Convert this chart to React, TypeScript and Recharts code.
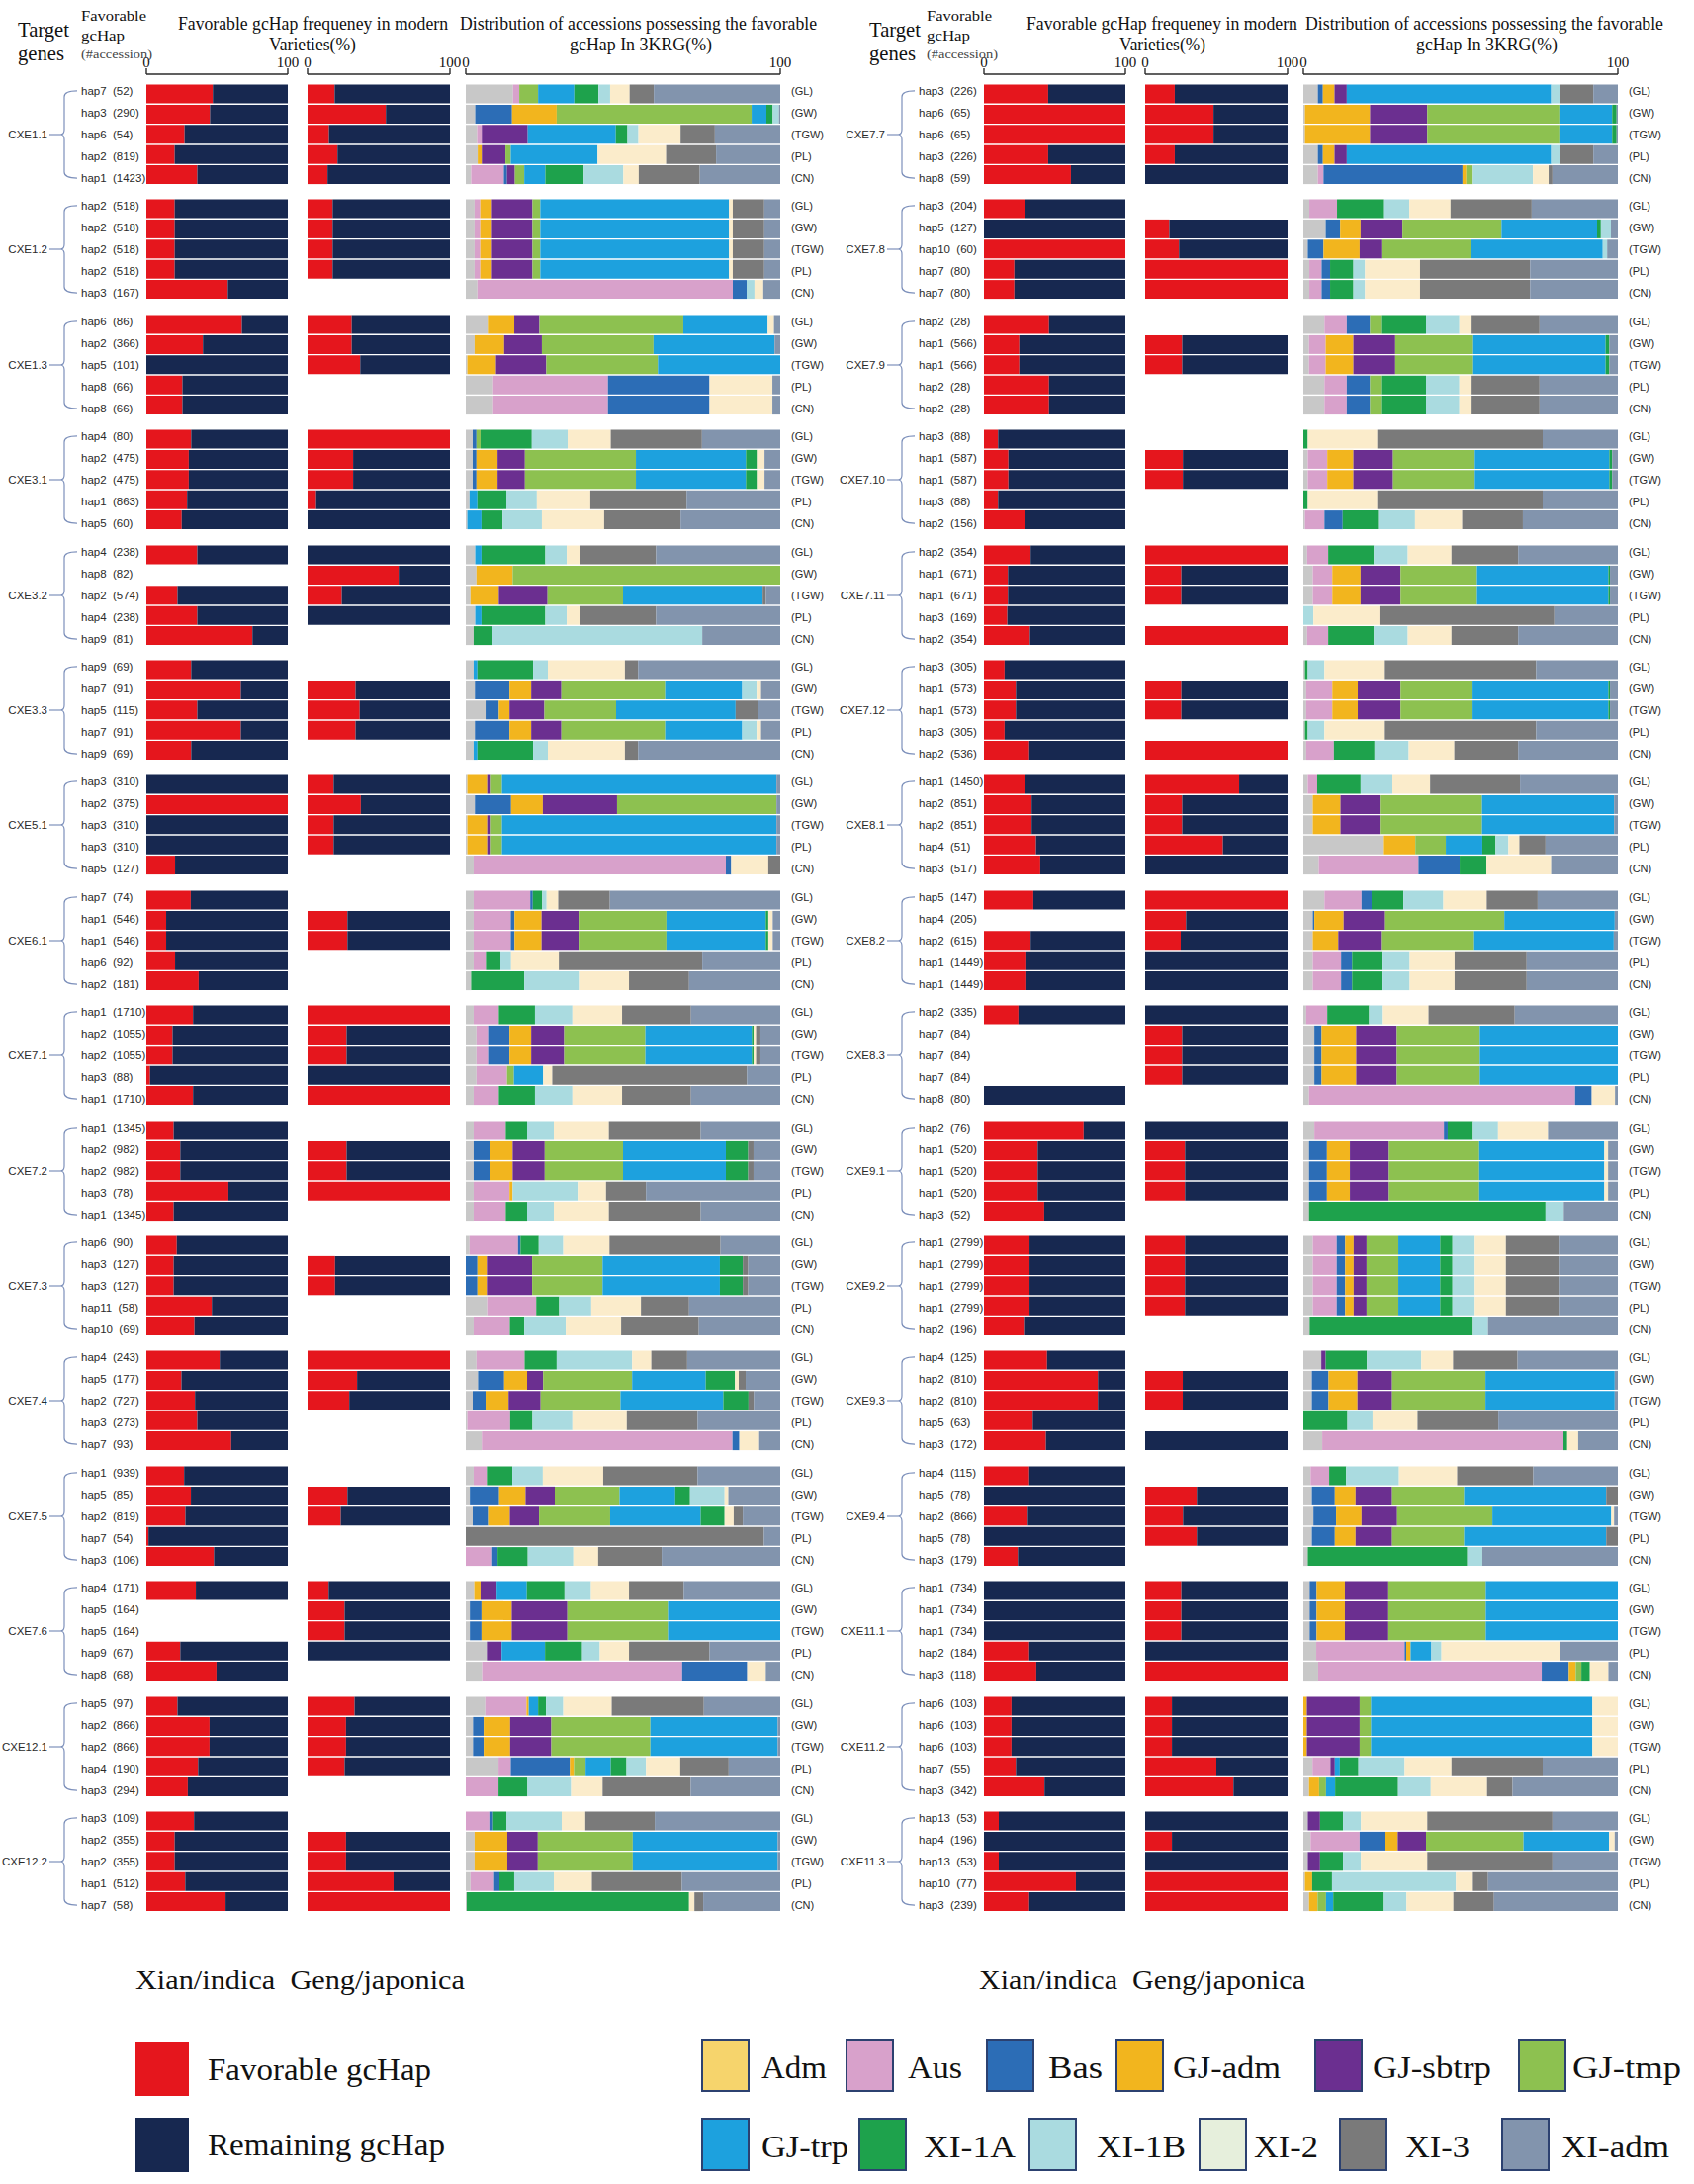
import React from "react";
import { Bar, BarChart, XAxis, YAxis } from "recharts";

const SERIF = '"Liberation Serif", "Times New Roman", serif';
const SANS = '"Liberation Sans", Arial, sans-serif';

const RED = "#e5161d";
const NAVY = "#172850";
const BRACE = "#7d90bb";

const GROUPS = ["Adm", "Aus", "Bas", "GJ-adm", "GJ-sbtrp", "GJ-tmp", "GJ-trp", "XI-1A", "XI-1B", "XI-2", "XI-3", "XI-adm"];
// colours as they appear inside the stacked bars
const GROUP_COLORS = ["#c8c8c8", "#d8a1cb", "#2c6db6", "#f2b51e", "#6b2f90", "#8dc150", "#1da1de", "#1ea24c", "#aadbe0", "#fbeccb", "#7a7a7a", "#8294ad"];
// the printed legend uses other swatches for Adm and XI-2
const LEGEND_COLORS = ["#f6d46c", "#d8a1cb", "#2c6db6", "#f2b51e", "#6b2f90", "#8dc150", "#1da1de", "#1ea24c", "#aadbe0", "#e6efdc", "#7a7a7a", "#8294ad"];
const TRAITS = ["(GL)", "(GW)", "(TGW)", "(PL)", "(CN)"];
const AXIS_TICKS = [0, 100];

const LEFT_GENES = ["CXE1.1", "CXE1.2", "CXE1.3", "CXE3.1", "CXE3.2", "CXE3.3", "CXE5.1", "CXE6.1", "CXE7.1", "CXE7.2", "CXE7.3", "CXE7.4", "CXE7.5", "CXE7.6", "CXE12.1", "CXE12.2"];
const RIGHT_GENES = ["CXE7.7", "CXE7.8", "CXE7.9", "CXE7.10", "CXE7.11", "CXE7.12", "CXE8.1", "CXE8.2", "CXE8.3", "CXE9.1", "CXE9.2", "CXE9.3", "CXE9.4", "CXE11.1", "CXE11.2", "CXE11.3"];

const LEFT_HAPS = [
  ["hap7  (52)", "hap3  (290)", "hap6  (54)", "hap2  (819)", "hap1  (1423)"],
  ["hap2  (518)", "hap2  (518)", "hap2  (518)", "hap2  (518)", "hap3  (167)"],
  ["hap6  (86)", "hap2  (366)", "hap5  (101)", "hap8  (66)", "hap8  (66)"],
  ["hap4  (80)", "hap2  (475)", "hap2  (475)", "hap1  (863)", "hap5  (60)"],
  ["hap4  (238)", "hap8  (82)", "hap2  (574)", "hap4  (238)", "hap9  (81)"],
  ["hap9  (69)", "hap7  (91)", "hap5  (115)", "hap7  (91)", "hap9  (69)"],
  ["hap3  (310)", "hap2  (375)", "hap3  (310)", "hap3  (310)", "hap5  (127)"],
  ["hap7  (74)", "hap1  (546)", "hap1  (546)", "hap6  (92)", "hap2  (181)"],
  ["hap1  (1710)", "hap2  (1055)", "hap2  (1055)", "hap3  (88)", "hap1  (1710)"],
  ["hap1  (1345)", "hap2  (982)", "hap2  (982)", "hap3  (78)", "hap1  (1345)"],
  ["hap6  (90)", "hap3  (127)", "hap3  (127)", "hap11  (58)", "hap10  (69)"],
  ["hap4  (243)", "hap5  (177)", "hap2  (727)", "hap3  (273)", "hap7  (93)"],
  ["hap1  (939)", "hap5  (85)", "hap2  (819)", "hap7  (54)", "hap3  (106)"],
  ["hap4  (171)", "hap5  (164)", "hap5  (164)", "hap9  (67)", "hap8  (68)"],
  ["hap5  (97)", "hap2  (866)", "hap2  (866)", "hap4  (190)", "hap3  (294)"],
  ["hap3  (109)", "hap2  (355)", "hap2  (355)", "hap1  (512)", "hap7  (58)"],
];

// favorable gcHap frequency (%) in modern Xian/indica varieties, null = no bar
const LEFT_INDICA = [
  [47, 45, 27, 20, 36],
  [20, 20, 20, 20, 57.6],
  [67.5, 40, 0, 25.5, 25.5],
  [31.7, 30, 30, 28.8, 25],
  [36, null, 22, 36, 75],
  [31.7, 66.8, 36, 66.8, 31.7],
  [0, 100, 0, 0, 20.3],
  [31.4, 14, 14, 20.3, 37],
  [33, 18.5, 18.5, 2.6, 33],
  [19.3, 24, 24, 58, 19.3],
  [21.5, 19.3, 19.3, 46.3, 34],
  [51.9, 24.8, 34.4, 36, 60],
  [26.7, 31.5, 27.6, 1.5, 47.8],
  [35, null, null, 24, 49.6],
  [22, 44.7, 44.7, 36.6, 29.3],
  [33.7, 20, 20, 27.5, 56],
];

// same for Geng/japonica
const LEFT_JAPONICA = [
  [19, 55, 15, 21, 14],
  [17.6, 17.6, 17.6, 17.6, null],
  [31, 31, 37, null, null],
  [100, 32, 32, 6, 0],
  [0, 64, 24, 0, null],
  [null, 33.7, 36.6, 33.7, null],
  [18.3, 37.4, 18.3, 18.3, null],
  [null, 28, 28, null, null],
  [100, 27.4, 27.4, 0, 100],
  [null, 27.4, 27.4, 100, null],
  [null, 19.3, 19.3, null, null],
  [100, 34.8, 29.3, null, null],
  [null, 28, 23.3, null, null],
  [14.8, 26, 26, 0, null],
  [33, 27, 27, 26, null],
  [null, 27, 27, 60.4, 100],
];

// share (%) of each 3KRG group, in GROUPS order
const LEFT_DIST = [
  [
    [15, 2, 0, 0, 0, 6, 11.5, 7.7, 3.7, 6.2, 7.7, 40.2],
    [3, 0, 11.7, 14.2, 0, 62, 4.7, 2, 2, 0, 0, 0.4],
    [3.6, 1.5, 0, 0, 14.6, 0, 28, 3.7, 3.5, 13.4, 10.9, 20.8],
    [3.8, 0, 0, 1.3, 7.5, 1.7, 27.6, 0, 0, 21.8, 15.9, 20.4],
    [1.7, 10.4, 1, 0, 2.5, 3, 6.7, 12.2, 12.6, 4.9, 19.4, 25.6],
  ],
  [
    [2.8, 1.8, 0, 3.7, 12.9, 2.5, 60, 0, 0, 1.2, 10, 5.1],
    [2.8, 1.8, 0, 3.7, 12.9, 2.5, 60, 0, 0, 1.2, 10, 5.1],
    [2.8, 1.8, 0, 3.7, 12.9, 2.5, 60, 0, 0, 1.2, 10, 5.1],
    [2.8, 1.8, 0, 3.7, 12.9, 2.5, 60, 0, 0, 1.2, 10, 5.1],
    [3.7, 81.2, 4.4, 0, 0, 0, 0, 0, 2.5, 2.8, 0, 5.4],
  ],
  [
    [7, 0, 0, 8.4, 8, 45.7, 26.8, 0, 0, 2, 0, 2],
    [2.8, 0, 0, 9.4, 12, 35.5, 38.5, 0, 0, 0, 0, 1.8],
    [0.5, 0, 0, 9.1, 16, 35.5, 38.9, 0, 0, 0, 0, 0],
    [8.7, 36.5, 32.3, 0, 0, 0, 0, 0, 0, 20, 0, 2.5],
    [8.7, 36.5, 32.3, 0, 0, 0, 0, 0, 0, 20, 0, 2.5],
  ],
  [
    [2.2, 0, 1.2, 0, 0, 1.3, 0, 16.3, 11.4, 13.7, 29, 24.9],
    [2.2, 0, 1.2, 6.7, 8.7, 35.3, 35, 3.5, 0, 2.4, 0, 5],
    [2.2, 0, 1.2, 6.7, 8.7, 35.3, 35, 3.5, 0, 2.4, 0, 5],
    [1.2, 0, 0, 0, 0, 0, 2.5, 9.2, 9.7, 17, 30.6, 29.8],
    [0.5, 0, 0, 0, 0, 0, 4.5, 6.7, 12.5, 19.8, 24.3, 31.7],
  ],
  [
    [3, 0, 0, 0, 0, 0, 2, 20.3, 6.8, 4.2, 24.2, 39.5],
    [3.4, 0, 0, 11.5, 0, 85.1, 0, 0, 0, 0, 0, 0],
    [1.5, 0, 0, 9, 15.5, 24, 44.4, 0, 0, 0, 1, 4.6],
    [3, 0, 0, 0, 0, 0, 2, 20.3, 6.8, 4.2, 24.2, 39.5],
    [2.5, 0, 0, 0, 0, 0, 0, 6, 66.7, 0, 0, 24.8],
  ],
  [
    [2.5, 0, 0, 0, 0, 0, 1.2, 17.7, 4.7, 24.5, 4.2, 45.2],
    [2.9, 0, 11, 6.9, 9.6, 33, 24.5, 0, 4.6, 1.4, 0, 6.1],
    [6.3, 0, 4.2, 3.4, 11.1, 22.8, 38, 0, 0, 0, 7.1, 7.1],
    [2.9, 0, 11, 6.9, 9.6, 33, 24.5, 0, 4.6, 1.4, 0, 6.1],
    [2.5, 0, 0, 0, 0, 0, 1.2, 17.7, 4.7, 24.5, 4.2, 45.2],
  ],
  [
    [0.5, 0, 0, 6.3, 1.2, 3.5, 87.3, 0, 0, 0, 0, 1.2],
    [2.9, 0, 11.5, 10.1, 23.6, 50.7, 0, 0, 0, 0, 0, 1.2],
    [0.5, 0, 0, 6.3, 1.2, 3.5, 87.3, 0, 0, 0, 0, 1.2],
    [0.5, 0, 0, 6.3, 1.2, 3.5, 87.3, 0, 0, 0, 0, 1.2],
    [2.5, 80.2, 1.7, 0, 0, 0, 0, 0, 0, 11.8, 3.8, 0],
  ],
  [
    [2.5, 18, 0.8, 0, 0, 0, 0, 3, 1.4, 3.7, 16.4, 54.2],
    [2.5, 11.8, 1.2, 8.6, 11.8, 27.9, 31.6, 0.8, 0, 1.4, 0, 2.4],
    [2.5, 11.8, 1.2, 8.6, 11.8, 27.9, 31.6, 0.8, 0, 1.4, 0, 2.4],
    [2.5, 3.9, 0, 0, 0, 0, 0, 4.6, 3.4, 15.2, 45.6, 24.8],
    [1.7, 0, 0, 0, 0, 0, 0, 16.9, 17.4, 15.9, 19.1, 29],
  ],
  [
    [2.5, 8, 0, 0, 0, 0, 0, 11.5, 11.9, 15.8, 21.9, 28.4],
    [3.4, 3.7, 6.8, 6.9, 10.5, 25.8, 33.9, 0.5, 0, 0.8, 1.4, 6.3],
    [3.4, 3.7, 6.8, 6.9, 10.5, 25.8, 33.9, 0.5, 0, 0.8, 1.4, 6.3],
    [3.4, 9.7, 0, 0, 0, 2.2, 9.3, 0, 0, 2.9, 61.9, 10.6],
    [2.5, 8, 0, 0, 0, 0, 0, 11.5, 11.9, 15.8, 21.9, 28.4],
  ],
  [
    [2.5, 10.2, 0, 0, 0, 0, 0, 6.8, 8.5, 17.5, 29.2, 25.3],
    [2.5, 0, 5.1, 7.3, 10.2, 24.9, 32.7, 7.1, 0, 0, 1.7, 8.5],
    [2.5, 0, 5.1, 7.3, 10.2, 24.9, 32.7, 7.1, 0, 0, 1.7, 8.5],
    [2.5, 11.4, 0, 1, 0, 0, 0, 0, 20.7, 9, 12.7, 42.7],
    [2.5, 10.2, 0, 0, 0, 0, 0, 6.8, 8.5, 17.5, 29.2, 25.3],
  ],
  [
    [1.2, 15.4, 0.8, 0, 0, 0, 0, 5.8, 7.8, 14.7, 35.3, 19],
    [0, 0, 3.7, 3, 14.4, 22.4, 37.3, 7.3, 0, 0, 1.7, 10.2],
    [0, 0, 3.7, 3, 14.4, 22.4, 37.3, 7.3, 0, 0, 1.7, 10.2],
    [6.8, 15.6, 0, 0, 0, 0, 0, 7.3, 10.2, 15.8, 15.3, 29],
    [2.5, 11.5, 0, 0, 0, 0, 0, 4.6, 13.2, 17.6, 24.7, 25.9],
  ],
  [
    [3.4, 15.3, 0, 0, 0, 0, 0, 10.2, 24, 6.1, 11.4, 29.6],
    [3.9, 0, 8.3, 7.3, 5.1, 28.3, 23.4, 9.3, 0, 1.2, 2.2, 11],
    [2.2, 0, 4.1, 7.3, 10.2, 25.4, 32.7, 8, 0, 0, 1.7, 8.4],
    [0.5, 13.6, 0, 0, 0, 0, 0, 7.1, 12.7, 17.3, 22.5, 26.3],
    [5.1, 79.7, 2.2, 0, 0, 0, 0, 0, 0, 6.3, 0, 6.7],
  ],
  [
    [2.5, 4.2, 0, 0, 0, 0, 0, 8.1, 9.7, 19.2, 30, 26.3],
    [1.3, 0, 9.3, 8.4, 9.3, 20.6, 17.7, 4.7, 11, 1.2, 0, 16.5],
    [2.2, 0, 4.9, 6.9, 9.3, 22.6, 28.8, 7.6, 0, 2.9, 2.9, 11.9],
    [0, 0, 0, 0, 0, 0, 0, 0, 0, 0, 94.8, 5.2],
    [0, 8.4, 1.7, 0, 0, 0, 0, 9.6, 14.5, 7.9, 20.2, 37.7],
  ],
  [
    [2.7, 0, 0, 2, 5.1, 0, 9.6, 12, 8.4, 12.1, 17.4, 30.7],
    [1.3, 0, 3.7, 9.6, 17.7, 32, 35.7, 0, 0, 0, 0, 0],
    [1.3, 0, 3.7, 9.6, 17.7, 32, 35.7, 0, 0, 0, 0, 0],
    [6.7, 0, 0, 0, 4.7, 0, 13.8, 11.8, 5.6, 9.3, 25.6, 22.5],
    [5.2, 63.6, 20.7, 0, 0, 0, 0, 0, 0, 5.9, 0, 4.6],
  ],
  [
    [6.2, 13.1, 0, 0.7, 0, 0, 3, 2.5, 5.5, 15.4, 29.3, 24.3],
    [2.3, 0, 3.4, 8.4, 13.1, 31.5, 40.5, 0, 0, 0, 0, 0.8],
    [2.3, 0, 3.4, 8.4, 13.1, 31.5, 40.5, 0, 0, 0, 0, 0.8],
    [10.4, 3.9, 18.8, 1.3, 0, 3.7, 8, 5, 6.2, 10.9, 15.4, 16.4],
    [0, 10.4, 0, 0, 0, 0, 0, 9.2, 13.9, 10, 28, 28.5],
  ],
  [
    [0, 7.5, 1.2, 0, 0, 0, 0, 4.2, 17.6, 7.5, 22.1, 39.9],
    [2.8, 0, 0, 10.4, 9.7, 30.2, 46.1, 0, 0, 0, 0, 0.8],
    [2.8, 0, 0, 10.4, 9.7, 30.2, 46.1, 0, 0, 0, 0, 0.8],
    [1.5, 7.5, 1.7, 0, 0, 0, 0, 4.7, 12.6, 12.1, 28.6, 31.3],
    [0.3, 0, 0, 0, 0, 0, 0, 70.7, 0, 1.7, 2.8, 24.5],
  ],
];

const RIGHT_HAPS = [
  ["hap3  (226)", "hap6  (65)", "hap6  (65)", "hap3  (226)", "hap8  (59)"],
  ["hap3  (204)", "hap5  (127)", "hap10  (60)", "hap7  (80)", "hap7  (80)"],
  ["hap2  (28)", "hap1  (566)", "hap1  (566)", "hap2  (28)", "hap2  (28)"],
  ["hap3  (88)", "hap1  (587)", "hap1  (587)", "hap3  (88)", "hap2  (156)"],
  ["hap2  (354)", "hap1  (671)", "hap1  (671)", "hap3  (169)", "hap2  (354)"],
  ["hap3  (305)", "hap1  (573)", "hap1  (573)", "hap3  (305)", "hap2  (536)"],
  ["hap1  (1450)", "hap2  (851)", "hap2  (851)", "hap4  (51)", "hap3  (517)"],
  ["hap5  (147)", "hap4  (205)", "hap2  (615)", "hap1  (1449)", "hap1  (1449)"],
  ["hap2  (335)", "hap7  (84)", "hap7  (84)", "hap7  (84)", "hap8  (80)"],
  ["hap2  (76)", "hap1  (520)", "hap1  (520)", "hap1  (520)", "hap3  (52)"],
  ["hap1  (2799)", "hap1  (2799)", "hap1  (2799)", "hap1  (2799)", "hap2  (196)"],
  ["hap4  (125)", "hap2  (810)", "hap2  (810)", "hap5  (63)", "hap3  (172)"],
  ["hap4  (115)", "hap5  (78)", "hap2  (866)", "hap5  (78)", "hap3  (179)"],
  ["hap1  (734)", "hap1  (734)", "hap1  (734)", "hap2  (184)", "hap3  (118)"],
  ["hap6  (103)", "hap6  (103)", "hap6  (103)", "hap7  (55)", "hap3  (342)"],
  ["hap13  (53)", "hap4  (196)", "hap13  (53)", "hap10  (77)", "hap3  (239)"],
];

const RIGHT_INDICA = [
  [45.4, 100, 100, 45.4, 61.5],
  [28.8, 0, 100, 21.5, 21.5],
  [46, 25, 25, 46, 46],
  [10, 17.3, 17.3, 10, 28.8],
  [33, 17, 17, 16.5, 32.5],
  [14.6, 22.6, 22.6, 14.6, 32],
  [29, 33.7, 33.7, 36.8, 39.8],
  [34.9, null, 33, 30, 30],
  [24.4, null, null, null, 0],
  [70.5, 38, 38, 38, 42.6],
  [32.2, 32.2, 32.2, 32.2, 28.3],
  [44.6, 80.6, 80.6, 34.5, 43.8],
  [32, 0, 31, 0, 24],
  [0, 0, 0, 32, 37],
  [19.5, 19.5, 19.5, 22.6, 42.8],
  [10.5, 0, 10.5, 65, 32],
];

const RIGHT_JAPONICA = [
  [20.8, 48, 48, 20.8, 0],
  [null, 17, 23.8, 100, 100],
  [null, 26, 26, null, null],
  [null, 26.5, 26.5, null, null],
  [100, 25.4, 25.4, null, 100],
  [null, 25.4, 25.4, null, 100],
  [66, 26, 26, 54.6, 0],
  [100, 28.7, 25, 0, 0],
  [0, 26, 26, 26, null],
  [0, 28, 28, 28, null],
  [28, 28, 28, 28, null],
  [null, 26.4, 26.4, null, 0],
  [null, 36.3, 26.6, 36.3, null],
  [25.4, 25.4, 25.4, 0, 100],
  [18.8, 18.8, 18.8, 50, 62],
  [0, 18.8, 0, 100, 100],
];

const RIGHT_DIST = [
  [
    [4.6, 0, 1.6, 3.7, 3.9, 0, 65, 0, 2.8, 0, 10.6, 7.8],
    [0.5, 0, 0, 20.7, 18.2, 42, 16.8, 1.4, 0, 0, 0, 0.4],
    [0.5, 0, 0, 20.7, 18.2, 42, 16.8, 1.4, 0, 0, 0, 0.4],
    [4.6, 0, 1.6, 3.7, 3.9, 0, 65, 0, 2.8, 0, 10.6, 7.8],
    [4.6, 1.8, 44.2, 1.2, 0, 2.1, 0, 0, 19.1, 5, 1.2, 20.8],
  ],
  [
    [1.9, 8.8, 0, 0, 0, 0, 0, 15, 8, 13.1, 25.8, 27.4],
    [7.1, 0, 4.6, 6.5, 13.3, 31.5, 30.4, 1.2, 3.2, 0, 0, 2.2],
    [1.4, 0, 5, 11.5, 6.9, 28.5, 41.9, 0, 1.4, 0, 0, 3.4],
    [1.9, 3.9, 2.7, 0, 0, 0, 0, 7.4, 3.7, 17.5, 35, 27.9],
    [1.9, 3.9, 2.7, 0, 0, 0, 0, 7.4, 3.7, 17.5, 35, 27.9],
  ],
  [
    [6.7, 7.1, 7.4, 0, 0, 3.5, 0, 14.3, 10.6, 3.9, 21.6, 24.9],
    [1.8, 5.3, 0, 8.8, 13.3, 24.8, 42.1, 1.2, 0, 0, 0, 2.7],
    [1.8, 5.3, 0, 8.8, 13.3, 24.8, 42.1, 1.2, 0, 0, 0, 2.7],
    [6.7, 7.1, 7.4, 0, 0, 3.5, 0, 14.3, 10.6, 3.9, 21.6, 24.9],
    [6.7, 7.1, 7.4, 0, 0, 3.5, 0, 14.3, 10.6, 3.9, 21.6, 24.9],
  ],
  [
    [0, 0, 0, 0, 0, 0, 0, 1.4, 0, 22.1, 52.6, 23.9],
    [1.4, 6.2, 0, 8.3, 12.6, 26, 42.8, 0.9, 0, 0, 0, 1.8],
    [1.4, 6.2, 0, 8.3, 12.6, 26, 42.8, 0.9, 0, 0, 0, 1.8],
    [0, 0, 0, 0, 0, 0, 0, 1.4, 0, 22.1, 52.6, 23.9],
    [0.5, 6.2, 5.8, 0, 0, 0, 0, 11.3, 11.7, 15, 19.3, 30.2],
  ],
  [
    [1.2, 6.7, 0, 0, 0, 0, 0, 14.5, 10.8, 13.9, 21.2, 31.7],
    [3, 6.2, 0, 9, 12.7, 24.3, 41.8, 0.5, 0, 0, 0, 2.5],
    [3, 6.2, 0, 9, 12.7, 24.3, 41.8, 0.5, 0, 0, 0, 2.5],
    [0, 0, 0, 0, 0, 0, 0, 0, 3.2, 21, 55.6, 20.2],
    [1.2, 6.7, 0, 0, 0, 0, 0, 14.5, 10.8, 13.9, 21.2, 31.7],
  ],
  [
    [0.5, 0, 0, 0, 0, 0, 0, 0.9, 5.3, 19.2, 48.1, 26],
    [0.9, 8.3, 0, 8.1, 13.6, 22.9, 43.2, 0.5, 0, 0, 0, 2.5],
    [0.9, 8.3, 0, 8.1, 13.6, 22.9, 43.2, 0.5, 0, 0, 0, 2.5],
    [0.5, 0, 0, 0, 0, 0, 0, 0.9, 5.3, 19.2, 48.1, 26],
    [0.9, 8.8, 0, 0, 0, 0, 0, 12.9, 10.9, 14.5, 20.3, 31.7],
  ],
  [
    [1.4, 3, 0, 0, 0, 0, 0, 13.8, 10.1, 12, 28.6, 31.1],
    [3, 0, 0, 8.8, 12.5, 32.5, 42, 0, 0, 0, 0, 1.2],
    [3, 0, 0, 8.8, 12.5, 32.5, 42, 0, 0, 0, 0, 1.2],
    [25.6, 0, 0, 10, 0, 9.7, 11.6, 4.2, 4.1, 3.5, 8.3, 23],
    [4.9, 31.7, 13.1, 0, 0, 0, 0, 8.5, 0, 20.6, 0, 21.2],
  ],
  [
    [6.7, 11.8, 3.2, 0, 0, 0, 0, 10.1, 12.7, 13.8, 16.2, 25.5],
    [3, 0, 0.5, 9.3, 13.2, 37.9, 35.1, 0, 0, 0, 0, 1],
    [3, 0, 0, 8.1, 13.6, 29.6, 44.4, 0, 0, 0, 0, 1.3],
    [3, 9, 3.5, 0, 0, 0, 0, 9.7, 8.6, 14.3, 22.9, 29],
    [3, 9, 3.5, 0, 0, 0, 0, 9.7, 8.6, 14.3, 22.9, 29],
  ],
  [
    [0.9, 6.7, 0, 0, 0, 0, 0, 13.3, 4.4, 14.5, 27.4, 32.8],
    [3.5, 0, 2.3, 11, 12.9, 26.4, 43.9, 0, 0, 0, 0, 0],
    [3.5, 0, 2.3, 11, 12.9, 26.4, 43.9, 0, 0, 0, 0, 0],
    [3.5, 0, 2.3, 11, 12.9, 26.4, 43.9, 0, 0, 0, 0, 0],
    [1.8, 84.6, 5.3, 0, 0, 0, 0, 0, 0, 7.4, 0, 0.9],
  ],
  [
    [3.5, 41.2, 1.2, 0, 0, 0, 0, 8, 8, 15.9, 0, 22.2],
    [1.8, 0, 5.7, 7.3, 12.4, 28.7, 39.8, 0, 0, 1.2, 0, 3.1],
    [1.8, 0, 5.7, 7.3, 12.4, 28.7, 39.8, 0, 0, 1.2, 0, 3.1],
    [1.8, 0, 5.7, 7.3, 12.4, 28.7, 39.8, 0, 0, 1.2, 0, 3.1],
    [1.8, 0, 0, 0, 0, 0, 0, 75.2, 5.8, 0, 0, 17.2],
  ],
  [
    [3, 7.6, 2.7, 2.7, 4.1, 10.1, 13.3, 3.9, 7.1, 9.9, 16.8, 18.8],
    [3, 7.6, 2.7, 2.7, 4.1, 10.1, 13.3, 3.9, 7.1, 9.9, 16.8, 18.8],
    [3, 7.6, 2.7, 2.7, 4.1, 10.1, 13.3, 3.9, 7.1, 9.9, 16.8, 18.8],
    [3, 7.6, 2.7, 2.7, 4.1, 10.1, 13.3, 3.9, 7.1, 9.9, 16.8, 18.8],
    [2, 0, 0, 0, 0, 0, 0, 51.9, 4.8, 0, 0, 41.3],
  ],
  [
    [5.7, 0, 0, 0, 1.4, 0, 0, 13.1, 17.3, 10.1, 20.5, 31.9],
    [2.7, 0, 5.3, 9.2, 11, 29.7, 41.1, 0, 0, 0, 0, 1],
    [2.7, 0, 5.3, 9.2, 11, 29.7, 41.1, 0, 0, 0, 0, 1],
    [0, 0, 0, 0, 0, 0, 0, 14, 8, 14.3, 25.7, 38],
    [6, 76.7, 0, 0, 0, 0, 0, 1.2, 0, 3.5, 0, 12.6],
  ],
  [
    [2.3, 5.9, 0, 0, 0, 0, 0, 5.4, 16.8, 18.5, 24.2, 26.9],
    [2.7, 0, 7.3, 6.6, 11.6, 22.9, 45.2, 0, 0, 0, 3.7, 0],
    [3.2, 0, 7.2, 8.1, 11.3, 30.3, 37.8, 0, 0, 0.9, 0, 1.2],
    [2.7, 0, 7.3, 6.6, 11.6, 22.9, 45.2, 0, 0, 0, 3.7, 0],
    [1.4, 0, 0, 0, 0, 0, 0, 50.7, 4.8, 0, 0, 43.1],
  ],
  [
    [2, 0, 2.2, 9, 13.8, 31, 42, 0, 0, 0, 0, 0],
    [2, 0, 2.2, 9, 13.8, 31, 42, 0, 0, 0, 0, 0],
    [2, 0, 2.2, 9, 13.8, 31, 42, 0, 0, 0, 0, 0],
    [4.1, 28.1, 0.5, 1.4, 0, 0, 6.6, 0, 3.2, 37.6, 0, 18.5],
    [4.7, 71.1, 8.6, 2.2, 0, 1.8, 0, 2.7, 0, 5.9, 0, 3],
  ],
  [
    [0, 0, 0, 1.1, 16.8, 3.6, 70.4, 0, 0, 8.1, 0, 0],
    [0, 0, 0, 1.1, 16.8, 3.6, 70.4, 0, 0, 8.1, 0, 0],
    [0, 0, 0, 1.1, 16.8, 3.6, 70.4, 0, 0, 8.1, 0, 0],
    [2.9, 5.7, 0, 0, 1.4, 0, 1.6, 5.9, 14.7, 14.9, 29, 23.9],
    [1.8, 0, 0, 3.2, 0, 2.2, 2.9, 20, 10.4, 17.9, 8.1, 33.5],
  ],
  [
    [1.4, 0, 0, 0, 3.9, 0, 0, 7.3, 5.7, 21.1, 39.8, 20.8],
    [2.3, 15.6, 8.2, 3.9, 9, 31, 27.2, 0, 0, 1.8, 0, 1],
    [1.4, 0, 0, 0, 3.9, 0, 0, 7.3, 5.7, 21.1, 39.8, 20.8],
    [0.5, 0, 0, 2.3, 0, 0, 0, 6.3, 39.4, 5.4, 4.8, 41.3],
    [1.8, 0, 0, 2.7, 0, 2.7, 2.3, 16.1, 7.2, 14.9, 12.9, 39.4],
  ],
];

// ---- layout (page pixels) ----
const PAGE_W = 1713;
const PAGE_H = 2208;
const RIGHT_X = 847;
const BLOCK_H = 102;
const BLOCK_TOP = 85;
const BLOCK_PITCH = 116.4;
const LABEL_SPREAD = 1.08; // row labels sit a little wider apart than the bars
const IND = { x: 148, w: 143 };
const JAP = { x: 311, w: 144 };
const DIST = { x: 471, w: 318 };
const TRAIT_W = 52;
const HEADER_ROW = [{ key: "axis", v: 0 }];

const HEADERS = [
  { px: 0, target: 18, fav: 82, t1: 180, t1w: 273, t2: 272, t2w: 88, d1: 465, d1w: 361, d2: 576, d2w: 144 },
  { px: RIGHT_X, target: 32, fav: 90, t1: 191, t1w: 274, t2: 285, t2w: 87, d1: 473, d1w: 362, d2: 585, d2w: 143 },
];

const GROUP_LEGEND_LAYOUT = [
  { x: 710, row: 0, tx: 770, tw: 66 },
  { x: 856, row: 0, tx: 918, tw: 55 },
  { x: 998, row: 0, tx: 1060, tw: 55 },
  { x: 1129, row: 0, tx: 1186, tw: 109 },
  { x: 1330, row: 0, tx: 1388, tw: 120 },
  { x: 1536, row: 0, tx: 1590, tw: 110 },
  { x: 710, row: 1, tx: 770, tw: 88 },
  { x: 869, row: 1, tx: 934, tw: 93 },
  { x: 1041, row: 1, tx: 1109, tw: 90 },
  { x: 1213, row: 1, tx: 1268, tw: 65 },
  { x: 1355, row: 1, tx: 1421, tw: 65 },
  { x: 1519, row: 1, tx: 1579, tw: 109 },
];

type Freq = (number | null)[];

function blockTop(i: number) {
  return Math.round(BLOCK_TOP + i * BLOCK_PITCH);
}

function spreadY(y: number) {
  return BLOCK_H / 2 + (y - BLOCK_H / 2) * LABEL_SPREAD;
}

function freqRows(values: Freq) {
  return values.map((v, i) => ({ key: String(i), fav: v, rem: v === null ? null : 100 - v }));
}

function distRows(rows: number[][]) {
  return rows.map((r, i) => {
    const sum = r.reduce((a, b) => a + b, 0);
    const row: Record<string, number | string> = { key: String(i) };
    r.forEach((v, gi) => {
      row["g" + gi] = (v * 100) / sum;
    });
    return row;
  });
}

function HeaderAxis({ x, w }: { x: number; w: number }) {
  return (
    <div style={{ position: "absolute", left: x - 20, top: 42 }}>
      <BarChart width={w + 40} height={36} data={HEADER_ROW} layout="vertical" margin={{ top: 0, right: 20, bottom: 0, left: 20 }}>
        <XAxis
          type="number"
          orientation="top"
          domain={[0, 100]}
          ticks={AXIS_TICKS}
          interval={0}
          height={33}
          tickSize={6}
          tickMargin={1}
          axisLine={{ stroke: "#2b2b2b", strokeWidth: 1.4 }}
          tickLine={{ stroke: "#2b2b2b", strokeWidth: 1.4 }}
          tick={{ fontFamily: SERIF, fontSize: 15, fill: "#111" }}
        />
        <YAxis type="category" dataKey="key" hide />
        <Bar dataKey="v" fill="none" isAnimationActive={false} />
      </BarChart>
    </div>
  );
}

function FreqChart({ values, x, w, haps }: { values: Freq; x: number; w: number; haps?: string[] }) {
  const data = freqRows(values);
  const axisW = haps ? x : 0;
  return (
    <div style={{ position: "absolute", left: haps ? 0 : x, top: 0 }}>
      <BarChart width={axisW + w} height={BLOCK_H} data={data} layout="vertical" margin={{ top: 0, right: 0, bottom: 0, left: 0 }} barCategoryGap={0.5}>
        <XAxis type="number" domain={[0, 100]} hide />
        {haps ? (
          <YAxis
            type="category"
            dataKey="key"
            width={axisW}
            interval={0}
            axisLine={false}
            tickLine={false}
            tick={(p: any) => (
              <text x={82} y={spreadY(p.y)} dy={4} fontFamily={SANS} fontSize={11.5} fill="#2a2a2a" style={{ whiteSpace: "pre" }}>
                {haps[Number(p.payload.value)]}
              </text>
            )}
          />
        ) : (
          <YAxis type="category" dataKey="key" hide />
        )}
        <Bar dataKey="fav" stackId="f" fill={RED} isAnimationActive={false} />
        <Bar dataKey="rem" stackId="f" fill={NAVY} isAnimationActive={false} />
      </BarChart>
    </div>
  );
}

function DistChart({ rows }: { rows: number[][] }) {
  const data = distRows(rows);
  return (
    <div style={{ position: "absolute", left: DIST.x, top: 0 }}>
      <BarChart width={DIST.w + TRAIT_W} height={BLOCK_H} data={data} layout="vertical" margin={{ top: 0, right: 0, bottom: 0, left: 0 }} barCategoryGap={0.5}>
        <XAxis type="number" domain={[0, 100]} hide />
        <YAxis
          type="category"
          dataKey="key"
          orientation="right"
          width={TRAIT_W}
          interval={0}
          axisLine={false}
          tickLine={false}
          tick={(p: any) => (
            <text x={DIST.w + 11} y={spreadY(p.y)} dy={4} fontFamily={SANS} fontSize={11} fill="#2a2a2a">
              {TRAITS[Number(p.payload.value)]}
            </text>
          )}
        />
        {GROUPS.map((g, gi) => (
          <Bar key={g} dataKey={"g" + gi} stackId="d" fill={GROUP_COLORS[gi]} isAnimationActive={false} />
        ))}
      </BarChart>
    </div>
  );
}

function Panel({
  x,
  genes,
  haps,
  indica,
  japonica,
  dist,
}: {
  x: number;
  genes: string[];
  haps: string[][];
  indica: Freq[];
  japonica: Freq[];
  dist: number[][][];
}) {
  return (
    <div style={{ position: "absolute", left: x, top: 0, width: 866, height: PAGE_H }}>
      <HeaderAxis x={IND.x} w={IND.w} />
      <HeaderAxis x={JAP.x} w={JAP.w} />
      <HeaderAxis x={DIST.x} w={DIST.w} />
      {genes.map((gene, i) => (
        <div key={gene} style={{ position: "absolute", left: 0, top: blockTop(i), width: 866, height: BLOCK_H }}>
          <FreqChart values={indica[i]} x={IND.x} w={IND.w} haps={haps[i]} />
          <FreqChart values={japonica[i]} x={JAP.x} w={JAP.w} />
          <DistChart rows={dist[i]} />
        </div>
      ))}
    </div>
  );
}

function Brace({ px, top, gene }: { px: number; top: number; gene: string }) {
  const row = BLOCK_H / 5;
  const y0 = top + spreadY(row / 2);
  const y4 = top + spreadY(BLOCK_H - row / 2);
  const ym = top + BLOCK_H / 2;
  const bx = px + 65;
  const d = `M ${px + 78} ${y0} Q ${bx} ${y0} ${bx} ${y0 + 6} L ${bx} ${ym - 5} Q ${bx} ${ym} ${bx - 4} ${ym} Q ${bx} ${ym} ${bx} ${ym + 5} L ${bx} ${y4 - 6} Q ${bx} ${y4} ${px + 78} ${y4}`;
  return (
    <g>
      <path d={d} fill="none" stroke={BRACE} strokeWidth={1.2} />
      <line x1={px + 50} x2={bx - 4} y1={ym} y2={ym} stroke={BRACE} strokeWidth={1.2} />
      <text x={px + 48} y={ym + 4} textAnchor="end" fontFamily={SANS} fontSize={11.5} fill="#2a2a2a">
        {gene}
      </text>
    </g>
  );
}

function Overlay() {
  const fit = { lengthAdjust: "spacingAndGlyphs" as const };
  return (
    <svg width={PAGE_W} height={PAGE_H} style={{ position: "absolute", left: 0, top: 0, pointerEvents: "none" }}>
      {HEADERS.map((h) => (
        <g key={h.px} fontFamily={SERIF} fill="#111">
          <text x={h.px + h.target} y={37} fontSize={21} textLength={52} {...fit}>Target</text>
          <text x={h.px + h.target} y={61} fontSize={21} textLength={47} {...fit}>genes</text>
          <text x={h.px + h.fav} y={21} fontSize={15} textLength={66} {...fit}>Favorable</text>
          <text x={h.px + h.fav} y={41} fontSize={15} textLength={44} {...fit}>gcHap</text>
          <text x={h.px + h.fav} y={59} fontSize={11.5} textLength={72} fill="#444" {...fit}>(#accession)</text>
          <text x={h.px + h.t1} y={30} fontSize={19} textLength={h.t1w} {...fit}>Favorable gcHap frequeney in modern</text>
          <text x={h.px + h.t2} y={51} fontSize={19} textLength={h.t2w} {...fit}>Varieties(%)</text>
          <text x={h.px + h.d1} y={30} fontSize={19} textLength={h.d1w} {...fit}>Distribution of accessions possessing the favorable</text>
          <text x={h.px + h.d2} y={51} fontSize={19} textLength={h.d2w} {...fit}>gcHap In 3KRG(%)</text>
        </g>
      ))}
      {LEFT_GENES.map((g, i) => (
        <Brace key={g} px={0} top={blockTop(i)} gene={g} />
      ))}
      {RIGHT_GENES.map((g, i) => (
        <Brace key={g} px={RIGHT_X} top={blockTop(i)} gene={g} />
      ))}

      <g fontFamily={SERIF} fill="#111">
        <text x={137} y={2011} fontSize={27} textLength={333} style={{ whiteSpace: "pre" }} {...fit}>Xian/indica  Geng/japonica</text>
        <text x={990} y={2011} fontSize={27} textLength={330} style={{ whiteSpace: "pre" }} {...fit}>Xian/indica  Geng/japonica</text>
        <rect x={137} y={2064} width={54} height={55} fill={RED} />
        <rect x={137} y={2141} width={54} height={55} fill={NAVY} />
        <text x={210} y={2103} fontSize={32} textLength={226} {...fit}>Favorable gcHap</text>
        <text x={210} y={2179} fontSize={32} textLength={240} {...fit}>Remaining gcHap</text>
        {GROUPS.map((g, gi) => {
          const l = GROUP_LEGEND_LAYOUT[gi];
          const y = l.row === 0 ? 2062 : 2142;
          return (
            <g key={g}>
              <rect x={l.x} y={y} width={47} height={52} fill={LEGEND_COLORS[gi]} stroke="#2c4170" strokeWidth={2} />
              <text x={l.tx} y={y + 39} fontSize={32} textLength={l.tw} {...fit}>
                {g}
              </text>
            </g>
          );
        })}
      </g>
    </svg>
  );
}

export default function App() {
  return (
    <div style={{ position: "absolute", left: 0, top: 0, width: PAGE_W, height: PAGE_H, background: "#fff", overflow: "hidden" }}>
      <Panel x={0} genes={LEFT_GENES} haps={LEFT_HAPS} indica={LEFT_INDICA} japonica={LEFT_JAPONICA} dist={LEFT_DIST} />
      <Panel x={RIGHT_X} genes={RIGHT_GENES} haps={RIGHT_HAPS} indica={RIGHT_INDICA} japonica={RIGHT_JAPONICA} dist={RIGHT_DIST} />
      <Overlay />
    </div>
  );
}
